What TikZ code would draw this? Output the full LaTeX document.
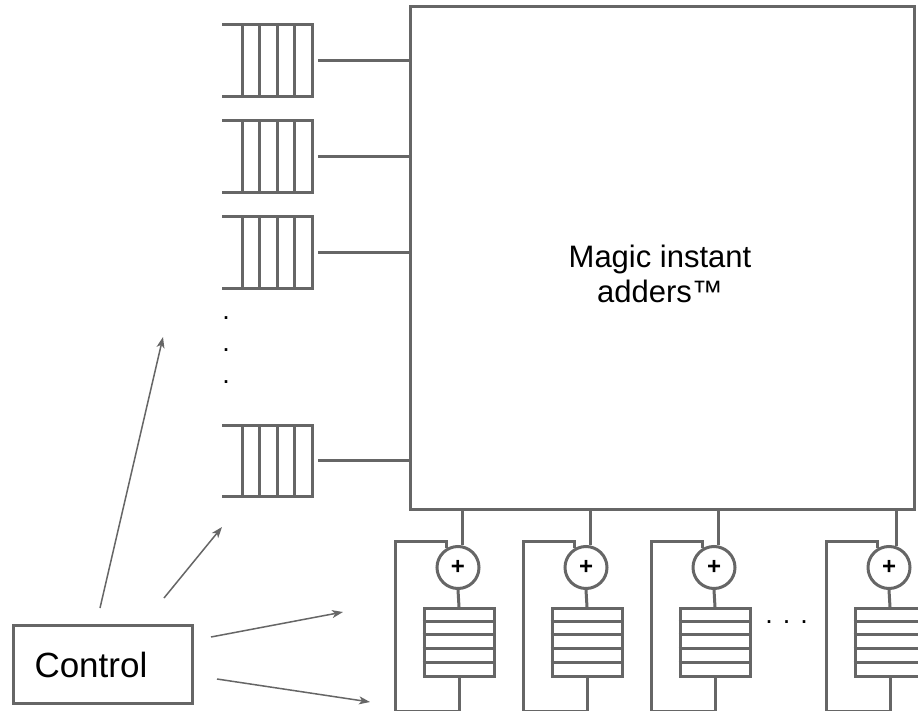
\documentclass[tikz,border=0pt]{standalone}
\usepackage{fontspec}
\setmainfont{Liberation Sans}
\usetikzlibrary{arrows.meta,calc}
\definecolor{wiregray}{HTML}{666666}

\begin{document}
\begin{tikzpicture}[x=1pt,y=-1pt,
  wire/.style={draw=wiregray,line width=3pt,line join=miter},
  ctrlarrow/.style={draw=wiregray,line width=1.5pt,
    -{Stealth[length=11pt,width=8pt,inset=3pt]}},
  fifo/.style={inner sep=0pt,minimum width=90pt,minimum height=71pt,anchor=north west},
  acc/.style={wire,fill=white,circle,inner sep=0pt,minimum size=42pt,
    font=\bfseries\fontsize{24}{24}\selectfont},
  stack/.style={wire,fill=white,inner sep=0pt,minimum width=70pt,minimum height=68pt,anchor=north},
  dotmark/.style={inner sep=0pt,anchor=base west,font=\fontsize{27}{32}\selectfont}]

\fill[white] (0,0) rectangle (918,711);
\useasboundingbox (0,0) rectangle (918,711);
\clip (0,0) rectangle (918,711);

% the big adder block
\node[wire,inner sep=0pt,minimum width=504pt,minimum height=503pt,anchor=north west]
  (mag) at (409,5) {};
\node[align=center,inner sep=0pt,font=\fontsize{31}{35}\selectfont]
  (maglbl) at (660,273.5) {Magic instant\\adders™};

% input FIFOs on the left
\foreach \q/\top in {qa/25,qb/121,qc/217,qd/425}{
  \node[fifo] (\q) at (222,\top) {};
  \draw[wire] (\q.north west) -- (\q.north east) -- (\q.south east) -- (\q.south west);
  \foreach \dx in {20,37.5,55,72.5}
    \draw[wire] ($(\q.north west)+(\dx,0)$) -- ($(\q.south west)+(\dx,0)$);
  \draw[wire,shorten <=6pt] (\q.east) -- (\q.east -| mag.west);
}

% vertical ellipsis between the FIFOs
\foreach \i/\y in {1/318,2/350,3/382}
  \node[dotmark] (vd\i) at (222.2,\y+1.4) {.};

% accumulator columns below the block
\foreach \k/\cx/\ang in {1/458/78,2/586/78,3/714/78,4/889/70}{
  \node[acc] (s\k) at (\cx,567.5) {+};
  \node[stack] (r\k) at (\cx+1,607) {};
  \foreach \dy in {14,27.5,41,55}
    \draw[wire] ($(r\k.north west)+(0,\dy)$) -- ($(r\k.north east)+(0,\dy)$);
  \draw[wire] (s\k.\ang) -- (s\k.\ang |- mag.south);
  \draw[wire] (s\k.south) -- (r\k.north);
  \draw[wire] (r\k.south) -- ++(0,33) -| ++(-64,-170) -| (s\k.122);
}

% horizontal ellipsis between the columns
\node[dotmark] (hd) at (765.2,623.4) {. . .};

% control unit and its signals
\node[wire,inner xsep=21pt,inner ysep=0pt,text width=137pt,align=left,
  minimum height=78pt,anchor=north west,font=\fontsize{35}{35}\selectfont]
  (ctl) at (12,624) {Control};
\coordinate (a1s) at (100,608);  \coordinate (a1e) at (163,337);
\coordinate (a2s) at (164,598);  \coordinate (a2e) at (222,527);
\coordinate (a3s) at (211,637);  \coordinate (a3e) at (343,612);
\coordinate (a4s) at (217,679);  \coordinate (a4e) at (370,702);
\draw[ctrlarrow] (a1s) -- (a1e);
\draw[ctrlarrow] (a2s) -- (a2e);
\draw[ctrlarrow] (a3s) -- (a3e);
\draw[ctrlarrow] (a4s) -- (a4e);
\end{tikzpicture}
\end{document}
